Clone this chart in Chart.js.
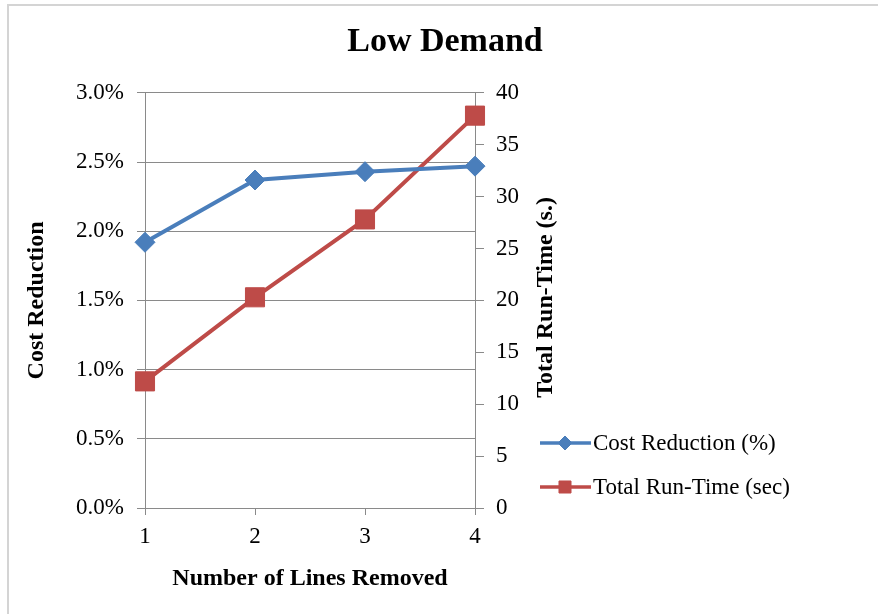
<!DOCTYPE html>
<html>
<head>
<meta charset="utf-8">
<script src="https://cdn.jsdelivr.net/npm/chart.js@4/dist/chart.umd.min.js"></script>
<style>
  html, body { margin: 0; padding: 0; background: #ffffff; }
  #wrap { position: relative; width: 878px; height: 614px; overflow: hidden; }
  #frame { position: absolute; left: 7px; top: 4px; right: -4px; bottom: -4px; border-left: 2px solid #d4d4d4; border-top: 2px solid #d4d4d4; }
  canvas { position: absolute; left: 0; top: 0; }
</style>
</head>
<body>
<div id="wrap">
  <div id="frame"></div>
  <canvas id="chart" width="878" height="614"></canvas>
</div>
<script>
// Categories: number of transmission lines removed
const linesRemoved = ['1', '2', '3', '4'];
// Cost reduction, in percent
const costReduction = [1.92, 2.37, 2.43, 2.47];
// Total run time, in seconds
const runTime = [12.2, 20.3, 27.8, 37.8];

const chartTitle = 'Low Demand';
const xTitle = 'Number of Lines Removed';
const leftTitle = 'Cost Reduction';
const rightTitle = 'Total Run-Time (s.)';
const costLabel = 'Cost Reduction (%)';
const timeLabel = 'Total Run-Time (sec)';

const SERIF = "'Liberation Serif', 'Times New Roman', serif";
const BLUE = '#4A7EBB';
const RED = '#BE4B48';
const AXIS = '#8a8a8a';
const TICK_SIZE = 23;
const AXIS_TITLE_SIZE = 24;

// Right-hand axis title (reads bottom-to-top) and the legend beside the plot
const sidePlugin = {
  id: 'sideDecor',
  afterDraw(chart) {
    const ctx = chart.ctx;
    const area = chart.chartArea;
    ctx.save();
    ctx.fillStyle = '#000';
    ctx.font = 'bold ' + AXIS_TITLE_SIZE + 'px ' + SERIF;
    ctx.textAlign = 'center';
    ctx.textBaseline = 'middle';
    ctx.translate(area.right + 71, (area.top + area.bottom) / 2 - 3);
    ctx.rotate(-Math.PI / 2);
    ctx.fillText(rightTitle, 0, 0);
    ctx.restore();

    const items = [
      { text: costLabel, ds: chart.data.datasets[0], y: 443, style: 'rectRot', r: 7 },
      { text: timeLabel, ds: chart.data.datasets[1], y: 487, style: 'rect', r: 8.5 }
    ];
    items.forEach(it => {
      ctx.save();
      ctx.strokeStyle = it.ds.borderColor;
      ctx.lineWidth = 3.5;
      ctx.beginPath();
      ctx.moveTo(540, it.y);
      ctx.lineTo(591, it.y);
      ctx.stroke();
      ctx.fillStyle = it.ds.borderColor;
      ctx.lineWidth = 1;
      Chart.helpers.drawPoint(ctx, { pointStyle: it.style, radius: it.r, borderWidth: 1, rotation: 0 }, 565, it.y);
      ctx.fill();
      ctx.fillStyle = '#000';
      ctx.font = TICK_SIZE + 'px ' + SERIF;
      ctx.textAlign = 'left';
      ctx.textBaseline = 'middle';
      ctx.fillText(it.text, 593, it.y + 1);
      ctx.restore();
    });
  }
};

new Chart(document.getElementById('chart'), {
  type: 'line',
  data: {
    labels: linesRemoved,
    datasets: [
      {
        label: costLabel,
        data: costReduction,
        yAxisID: 'y',
        borderColor: BLUE,
        backgroundColor: BLUE,
        borderWidth: 4,
        pointStyle: 'rectRot',
        pointRadius: 10,
        pointBorderWidth: 1,
        pointBackgroundColor: BLUE,
        pointBorderColor: BLUE,
        tension: 0
      },
      {
        label: timeLabel,
        data: runTime,
        yAxisID: 'y1',
        borderColor: RED,
        backgroundColor: RED,
        borderWidth: 4,
        pointStyle: 'rect',
        pointRadius: 13.5,
        pointBorderWidth: 1,
        pointBackgroundColor: RED,
        pointBorderColor: RED,
        tension: 0
      }
    ]
  },
  options: {
    responsive: false,
    animation: false,
    devicePixelRatio: 1,
    layout: { padding: { left: 12, right: 0, top: 0, bottom: 0 } },
    plugins: {
      legend: { display: false },
      tooltip: { enabled: false },
      title: {
        display: true,
        text: chartTitle,
        color: '#000',
        font: { family: SERIF, size: 34, weight: 'bold', lineHeight: 1.2 },
        padding: { top: 22, bottom: 30 }
      }
    },
    scales: {
      x: {
        type: 'category',
        offset: false,
        grid: { display: true, drawOnChartArea: false, drawTicks: true, tickLength: 7, color: AXIS },
        border: { display: true, color: AXIS, width: 1 },
        ticks: { color: '#000', font: { family: SERIF, size: TICK_SIZE }, padding: 8, maxRotation: 0 },
        title: {
          display: true,
          text: xTitle,
          color: '#000',
          font: { family: SERIF, size: AXIS_TITLE_SIZE, weight: 'bold', lineHeight: 1.2 },
          padding: { top: 0, bottom: 21 }
        },
        afterFit(scale) { scale.height = 106; }
      },
      y: {
        position: 'left',
        min: 0,
        max: 3,
        grid: { display: true, drawOnChartArea: true, drawTicks: true, tickLength: 8, color: AXIS },
        border: { display: true, color: AXIS, width: 1 },
        ticks: {
          stepSize: 0.5,
          color: '#000',
          font: { family: SERIF, size: TICK_SIZE },
          padding: 13,
          callback: v => v.toFixed(1) + '%'
        },
        title: {
          display: true,
          text: leftTitle,
          color: '#000',
          font: { family: SERIF, size: AXIS_TITLE_SIZE, weight: 'bold', lineHeight: 1.2 },
          padding: { top: 10, bottom: 0 }
        },
        afterFit(scale) { scale.width = 133; }
      },
      y1: {
        position: 'right',
        min: 0,
        max: 40,
        grid: { display: true, drawOnChartArea: false, drawTicks: true, tickLength: 9, color: AXIS },
        border: { display: true, color: AXIS, width: 1 },
        ticks: { stepSize: 5, color: '#000', font: { family: SERIF, size: TICK_SIZE }, padding: 12 },
        afterFit(scale) { scale.width = 403; }
      }
    }
  },
  plugins: [sidePlugin]
});
</script>
</body>
</html>
